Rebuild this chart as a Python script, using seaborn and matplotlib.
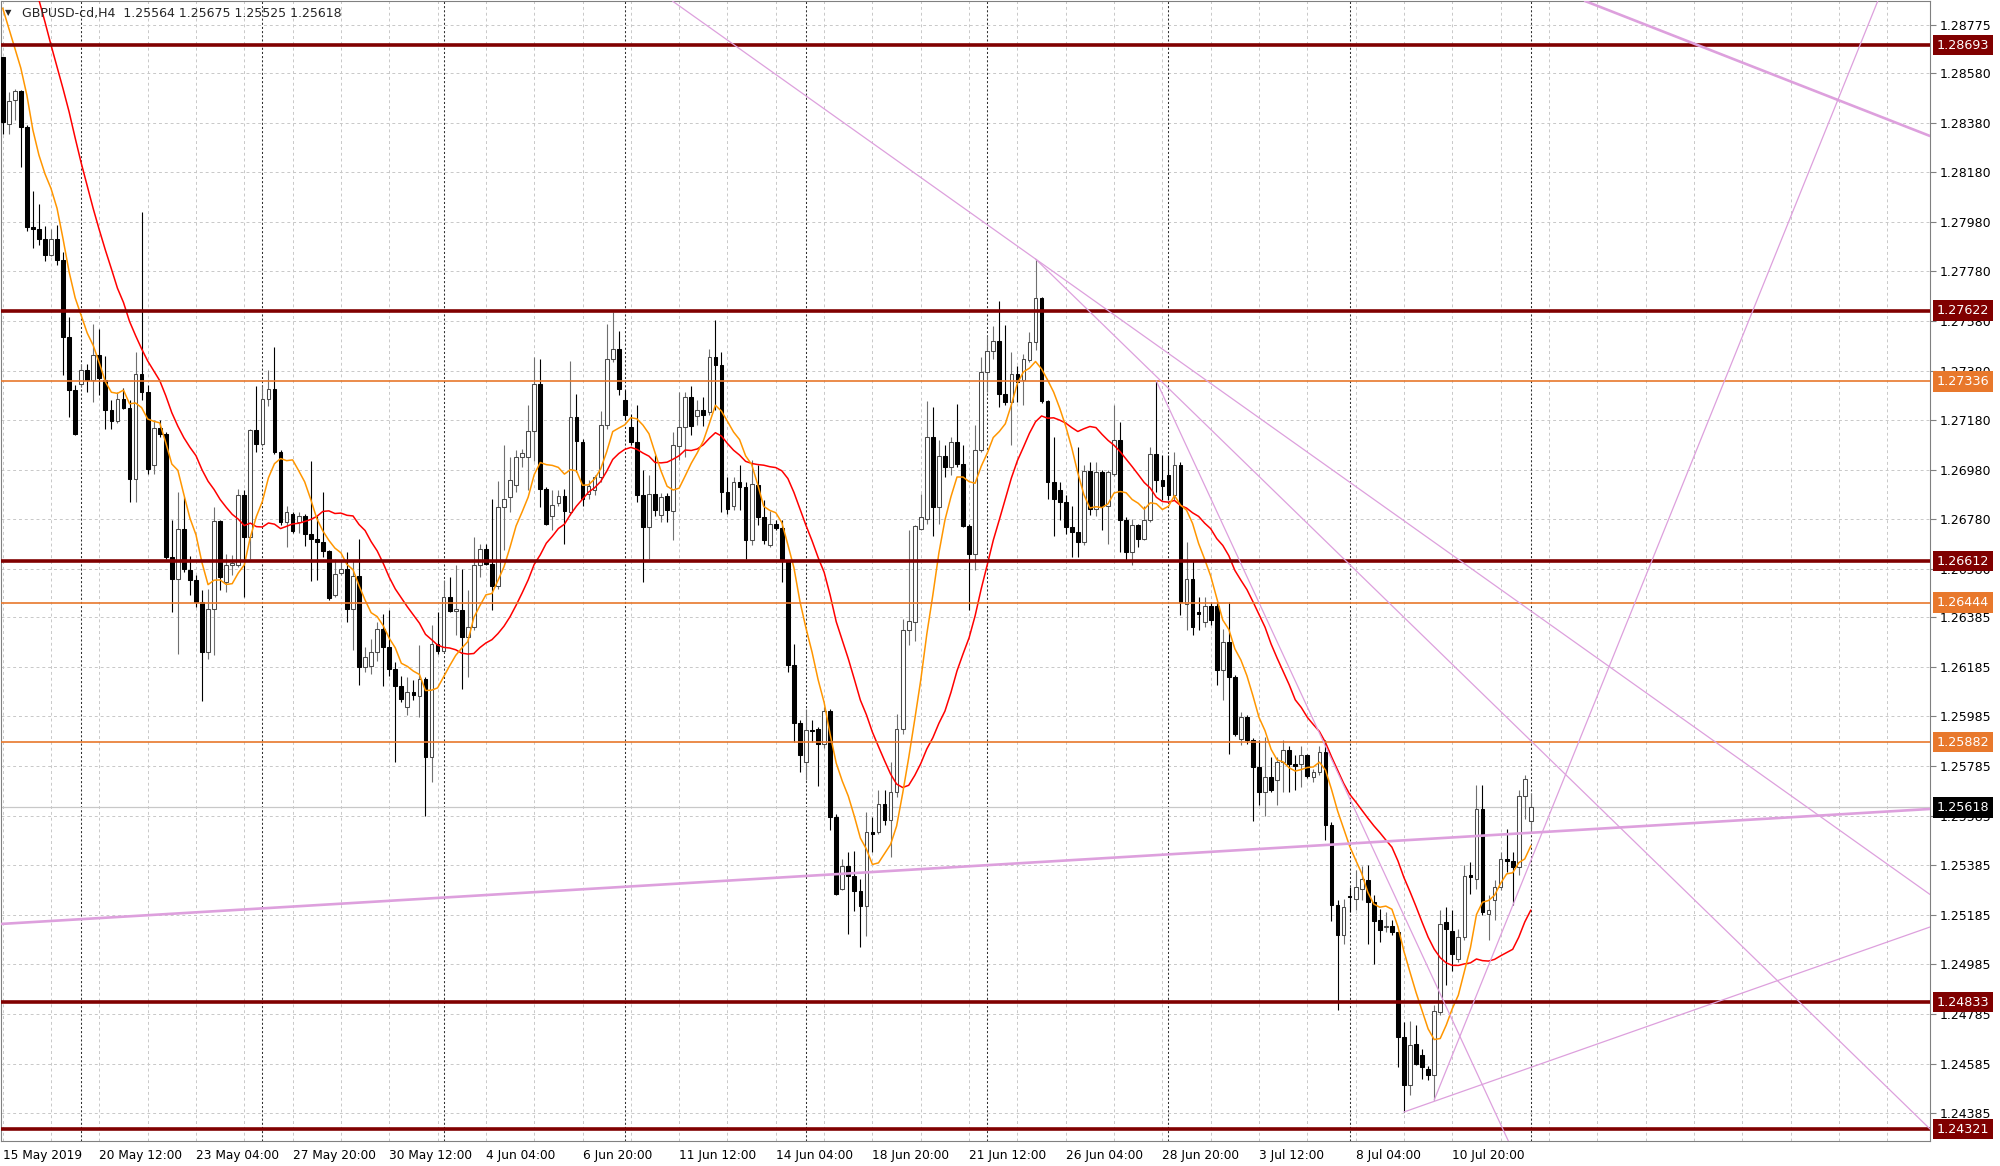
import numpy as np
import pandas as pd
import matplotlib
matplotlib.use("Agg")
import matplotlib.pyplot as plt
import matplotlib.transforms as mtransforms
import seaborn as sns

# GBPUSD H4 bars, 15 May 2019 20:00 -> 15 Jul 2019 00:00
bar_open = [
    1.28645, 1.28374, 1.28471, 1.28508, 1.28362, 1.27959, 1.27951, 1.27911, 1.27846, 1.27911,
    1.27826, 1.27515, 1.27302, 1.27326, 1.27382, 1.27342, 1.27443, 1.27342, 1.27221, 1.27177,
    1.27265, 1.27229, 1.26943, 1.27366, 1.27294, 1.26999, 1.27148, 1.27124, 1.26628, 1.26539,
    1.26741, 1.26576, 1.26535, 1.26447, 1.26245, 1.26418, 1.26773, 1.26527, 1.26596, 1.26596,
    1.26878, 1.26709, 1.27140, 1.27084, 1.27265, 1.27306, 1.27051, 1.26769, 1.26802, 1.26769,
    1.26794, 1.26721, 1.26701, 1.26689, 1.26652, 1.26475, 1.26564, 1.26580, 1.26418, 1.26552,
    1.26185, 1.26189, 1.26245, 1.26338, 1.26265, 1.26176, 1.26108, 1.26023, 1.26084, 1.26068,
    1.26136, 1.25821, 1.26277, 1.26249, 1.26467, 1.26410, 1.26414, 1.26306, 1.26346, 1.26596,
    1.26660, 1.26600, 1.26511, 1.26830, 1.26870, 1.26919, 1.27031, 1.27031, 1.27136, 1.27326,
    1.26902, 1.26794, 1.26846, 1.26874, 1.26810, 1.27193, 1.27092, 1.26882, 1.26898, 1.26951,
    1.27161, 1.27427, 1.27467, 1.27261, 1.27152, 1.27092, 1.26878, 1.26749, 1.26882, 1.26798,
    1.26874, 1.26814, 1.27076, 1.27152, 1.27273, 1.27197, 1.27221, 1.27213, 1.27435, 1.27403,
    1.26890, 1.26834, 1.26931, 1.26910, 1.26697, 1.26919, 1.26789, 1.26677, 1.26761, 1.26745,
    1.26612, 1.26193, 1.25959, 1.25801, 1.25930, 1.25934, 1.25874, 1.26007, 1.25580, 1.25289,
    1.25382, 1.25342, 1.25281, 1.25221, 1.25519, 1.25519, 1.25632, 1.25567, 1.25680, 1.25934,
    1.26334, 1.26366, 1.26741, 1.26781, 1.27112, 1.26830, 1.27036, 1.26991, 1.27092, 1.27003,
    1.26753, 1.26640, 1.27060, 1.27374, 1.27459, 1.27499, 1.27286, 1.27253, 1.27366, 1.27342,
    1.27423, 1.27495, 1.27673, 1.27257, 1.26931, 1.26898, 1.26850, 1.26749, 1.26729, 1.26689,
    1.26975, 1.26822, 1.26971, 1.26834, 1.26963, 1.27100, 1.26777, 1.26648, 1.26757, 1.26701,
    1.26777, 1.27044, 1.26939, 1.26959, 1.26878, 1.26999, 1.26439, 1.26539, 1.26406, 1.26366,
    1.26431, 1.26431, 1.26172, 1.26285, 1.26144, 1.25894, 1.25983, 1.25890, 1.25781, 1.25680,
    1.25741, 1.25729, 1.25801, 1.25850, 1.25793, 1.25793, 1.25830, 1.25741, 1.25761, 1.25842,
    1.25547, 1.25225, 1.25104, 1.25261, 1.25249, 1.25289, 1.25326, 1.25237, 1.25164, 1.25136,
    1.25140, 1.25116, 1.24692, 1.24499, 1.24664, 1.24620, 1.24563, 1.24539, 1.24793, 1.25156,
    1.25120, 1.25007, 1.25096, 1.25346, 1.25330, 1.25612, 1.25188, 1.25245, 1.25297, 1.25410,
    1.25402, 1.25378, 1.25664, 1.25564,
]
bar_high = [
    1.28645, 1.28504, 1.28516, 1.28512, 1.28370, 1.28104, 1.28052, 1.27963, 1.27951, 1.27967,
    1.27858, 1.27596, 1.27322, 1.27407, 1.27407, 1.27568, 1.27548, 1.27439, 1.27261, 1.27294,
    1.27310, 1.27261, 1.27455, 1.28020, 1.27322, 1.27181, 1.27181, 1.27132, 1.26777, 1.26890,
    1.26870, 1.26632, 1.26556, 1.26495, 1.26499, 1.26830, 1.26777, 1.26640, 1.26636, 1.26902,
    1.26898, 1.27144, 1.27318, 1.27318, 1.27382, 1.27475, 1.27060, 1.26834, 1.26810, 1.26810,
    1.26802, 1.27015, 1.26794, 1.26890, 1.26656, 1.26620, 1.26612, 1.26648, 1.26612, 1.26701,
    1.26265, 1.26297, 1.26366, 1.26398, 1.26414, 1.26205, 1.26148, 1.26144, 1.26132, 1.26273,
    1.26144, 1.26354, 1.26406, 1.26535, 1.26547, 1.26596, 1.26580, 1.26495, 1.26709, 1.26681,
    1.26681, 1.26862, 1.26935, 1.27080, 1.27031, 1.27060, 1.27064, 1.27241, 1.27435, 1.27427,
    1.26910, 1.26898, 1.26898, 1.26902, 1.27419, 1.27286, 1.27104, 1.26939, 1.26959, 1.27217,
    1.27568, 1.27616, 1.27540, 1.27302, 1.27205, 1.27241, 1.26979, 1.26959, 1.27040, 1.26886,
    1.26886, 1.27132, 1.27294, 1.27294, 1.27318, 1.27261, 1.27273, 1.27467, 1.27584, 1.27455,
    1.26951, 1.26951, 1.26999, 1.26931, 1.27019, 1.26999, 1.26858, 1.26814, 1.26777, 1.26777,
    1.26616, 1.26277, 1.25971, 1.26015, 1.25971, 1.25942, 1.26023, 1.26015, 1.25592, 1.25410,
    1.25438, 1.25442, 1.25330, 1.25600, 1.25580, 1.25688, 1.25688, 1.25801, 1.25995, 1.26378,
    1.26737, 1.26757, 1.26882, 1.27257, 1.27233, 1.27100, 1.27080, 1.27112, 1.27245, 1.27080,
    1.26761, 1.27161, 1.27435, 1.27519, 1.27560, 1.27661, 1.27564, 1.27455, 1.27398, 1.27447,
    1.27536, 1.27830, 1.27677, 1.27261, 1.27112, 1.26931, 1.26878, 1.26834, 1.27072, 1.26999,
    1.27011, 1.27011, 1.26979, 1.26979, 1.27241, 1.27173, 1.26789, 1.26781, 1.26761, 1.26834,
    1.27072, 1.27338, 1.27040, 1.27040, 1.27051, 1.27011, 1.26689, 1.26616, 1.26467, 1.26467,
    1.26447, 1.26447, 1.26338, 1.26447, 1.26152, 1.26003, 1.25991, 1.25898, 1.25890, 1.25902,
    1.25821, 1.25821, 1.25890, 1.25866, 1.25830, 1.25866, 1.25834, 1.25773, 1.25866, 1.25890,
    1.25559, 1.25245, 1.25249, 1.25297, 1.25366, 1.25382, 1.25386, 1.25265, 1.25209, 1.25196,
    1.25164, 1.25116, 1.24753, 1.24757, 1.24741, 1.24644, 1.24575, 1.24821, 1.25204, 1.25217,
    1.25204, 1.25128, 1.25386, 1.25398, 1.25709, 1.25709, 1.25265, 1.25326, 1.25438, 1.25531,
    1.25438, 1.25688, 1.25749, 1.25675,
]
bar_low = [
    1.28334, 1.28334, 1.28391, 1.28201, 1.27943, 1.27874, 1.27886, 1.27822, 1.27842, 1.27806,
    1.27362, 1.27193, 1.27120, 1.27314, 1.27294, 1.27253, 1.27282, 1.27144, 1.27144, 1.27169,
    1.27225, 1.26850, 1.26850, 1.27261, 1.26963, 1.26963, 1.27112, 1.26620, 1.26406, 1.26237,
    1.26568, 1.26475, 1.26427, 1.26047, 1.26217, 1.26233, 1.26495, 1.26487, 1.26556, 1.26588,
    1.26467, 1.26620, 1.27051, 1.27076, 1.27237, 1.27044, 1.26757, 1.26668, 1.26725, 1.26725,
    1.26673, 1.26531, 1.26535, 1.26628, 1.26455, 1.26467, 1.26556, 1.26366, 1.26253, 1.26112,
    1.26164, 1.26156, 1.26209, 1.26108, 1.26148, 1.25801, 1.26043, 1.25991, 1.26051, 1.25983,
    1.25584, 1.25721, 1.26237, 1.26245, 1.26406, 1.26314, 1.26096, 1.26144, 1.26334, 1.26547,
    1.26596, 1.26414, 1.26499, 1.26656, 1.26810, 1.26890, 1.26991, 1.26898, 1.27015, 1.26830,
    1.26757, 1.26737, 1.26834, 1.26681, 1.26798, 1.26971, 1.26834, 1.26862, 1.26878, 1.26931,
    1.27144, 1.27415, 1.27282, 1.27181, 1.27080, 1.26850, 1.26527, 1.26620, 1.26794, 1.26769,
    1.26769, 1.26697, 1.27019, 1.27031, 1.27120, 1.27161, 1.27156, 1.27201, 1.27221, 1.26810,
    1.26802, 1.26818, 1.26818, 1.26620, 1.26677, 1.26757, 1.26681, 1.26668, 1.26737, 1.26527,
    1.26164, 1.25882, 1.25761, 1.25729, 1.25882, 1.25705, 1.25858, 1.25527, 1.25265, 1.25285,
    1.25108, 1.25200, 1.25055, 1.25100, 1.25438, 1.25511, 1.25547, 1.25418, 1.25660, 1.25914,
    1.26273, 1.26289, 1.26737, 1.26761, 1.26713, 1.26761, 1.26951, 1.26959, 1.26991, 1.26749,
    1.26414, 1.26576, 1.27051, 1.27294, 1.27427, 1.27233, 1.27241, 1.27080, 1.27253, 1.27241,
    1.27415, 1.27463, 1.27249, 1.26862, 1.26713, 1.26777, 1.26721, 1.26628, 1.26628, 1.26677,
    1.26798, 1.26794, 1.26737, 1.26681, 1.26955, 1.26648, 1.26616, 1.26596, 1.26668, 1.26697,
    1.26769, 1.26890, 1.26858, 1.26858, 1.26858, 1.26394, 1.26334, 1.26314, 1.26334, 1.26346,
    1.26354, 1.26112, 1.26051, 1.25834, 1.25906, 1.25870, 1.25874, 1.25563, 1.25628, 1.25584,
    1.25680, 1.25628, 1.25680, 1.25680, 1.25688, 1.25701, 1.25737, 1.25721, 1.25749, 1.25487,
    1.25160, 1.24801, 1.25067, 1.25196, 1.25204, 1.25245, 1.25067, 1.24987, 1.25075, 1.25116,
    1.25104, 1.24571, 1.24390, 1.24458, 1.24579, 1.24523, 1.24519, 1.24438, 1.24781, 1.24902,
    1.24958, 1.24995, 1.25084, 1.25269, 1.25289, 1.25184, 1.25084, 1.25164, 1.25285, 1.25358,
    1.25225, 1.25346, 1.25572, 1.25525,
]
bar_close = [
    1.28383, 1.28467, 1.28508, 1.28362, 1.27959, 1.27951, 1.27911, 1.27846, 1.27911, 1.27826,
    1.27515, 1.27302, 1.27124, 1.27382, 1.27342, 1.27443, 1.27350, 1.27221, 1.27177, 1.27265,
    1.27229, 1.26943, 1.27366, 1.27294, 1.26983, 1.27148, 1.27124, 1.26628, 1.26539, 1.26741,
    1.26580, 1.26535, 1.26447, 1.26245, 1.26418, 1.26773, 1.26547, 1.26596, 1.26604, 1.26878,
    1.26709, 1.27140, 1.27084, 1.27265, 1.27306, 1.27051, 1.26769, 1.26810, 1.26733, 1.26794,
    1.26721, 1.26701, 1.26689, 1.26652, 1.26463, 1.26560, 1.26580, 1.26418, 1.26552, 1.26185,
    1.26225, 1.26245, 1.26338, 1.26265, 1.26176, 1.26108, 1.26055, 1.26084, 1.26072, 1.26136,
    1.25821, 1.26277, 1.26249, 1.26467, 1.26410, 1.26418, 1.26306, 1.26346, 1.26596, 1.26660,
    1.26600, 1.26511, 1.26830, 1.26862, 1.26939, 1.27031, 1.27048, 1.27136, 1.27326, 1.26902,
    1.26761, 1.26838, 1.26874, 1.26814, 1.27193, 1.27096, 1.26862, 1.26915, 1.26951, 1.27161,
    1.27427, 1.27467, 1.27306, 1.27201, 1.27092, 1.26878, 1.26749, 1.26882, 1.26818, 1.26870,
    1.26818, 1.27080, 1.27152, 1.27273, 1.27156, 1.27221, 1.27201, 1.27435, 1.27403, 1.26890,
    1.26822, 1.26931, 1.26910, 1.26697, 1.26923, 1.26789, 1.26697, 1.26761, 1.26745, 1.26612,
    1.26193, 1.25959, 1.25830, 1.25930, 1.25926, 1.25874, 1.26007, 1.25580, 1.25269, 1.25382,
    1.25342, 1.25281, 1.25221, 1.25519, 1.25511, 1.25632, 1.25567, 1.25680, 1.25934, 1.26334,
    1.26370, 1.26753, 1.26789, 1.27112, 1.26830, 1.27036, 1.26991, 1.27092, 1.27003, 1.26753,
    1.26640, 1.27060, 1.27374, 1.27459, 1.27499, 1.27286, 1.27253, 1.27366, 1.27334, 1.27427,
    1.27495, 1.27673, 1.27257, 1.26931, 1.26862, 1.26850, 1.26749, 1.26729, 1.26689, 1.26975,
    1.26822, 1.26971, 1.26834, 1.26971, 1.27100, 1.26777, 1.26648, 1.26757, 1.26701, 1.26777,
    1.27044, 1.26939, 1.26915, 1.26878, 1.26999, 1.26447, 1.26539, 1.26346, 1.26398, 1.26431,
    1.26374, 1.26172, 1.26285, 1.26144, 1.25914, 1.25983, 1.25890, 1.25781, 1.25680, 1.25741,
    1.25688, 1.25801, 1.25850, 1.25793, 1.25785, 1.25830, 1.25745, 1.25761, 1.25842, 1.25547,
    1.25225, 1.25104, 1.25217, 1.25257, 1.25297, 1.25330, 1.25237, 1.25160, 1.25124, 1.25140,
    1.25116, 1.24692, 1.24499, 1.24660, 1.24583, 1.24571, 1.24539, 1.24797, 1.25148, 1.25128,
    1.25027, 1.25096, 1.25342, 1.25338, 1.25612, 1.25196, 1.25204, 1.25297, 1.25410, 1.25402,
    1.25378, 1.25664, 1.25733, 1.25618,
]

# moving average values before enough bars are on screen
sma_fast_head = [1.28842, 1.28762, 1.28681, 1.28600, 1.28491, 1.28350, 1.28249]
sma_slow_head = [np.nan, np.nan, np.nan, np.nan, np.nan,
                 1.28963, 1.28875, 1.28786, 1.28693, 1.28604, 1.28516, 1.28423,
                 1.28318, 1.28217, 1.28124, 1.28032, 1.27947, 1.27866, 1.27790]

date_tick_bars = [0, 16, 32, 48, 64, 80, 96, 112, 128, 144, 160, 176, 192, 208, 224, 240]
date_labels = ["15 May 2019", "20 May 12:00", "23 May 04:00", "27 May 20:00",
               "30 May 12:00", "4 Jun 04:00", "6 Jun 20:00", "11 Jun 12:00",
               "14 Jun 04:00", "18 Jun 20:00", "21 Jun 12:00", "26 Jun 04:00",
               "28 Jun 20:00", "3 Jul 12:00", "8 Jul 04:00", "10 Jul 20:00"]
week_start_bars = [13, 43, 73, 103, 133, 163, 193, 223, 253]

price_ticks = [1.28775, 1.28580, 1.28380, 1.28180, 1.27980, 1.27780, 1.27580,
               1.27380, 1.27180, 1.26980, 1.26780, 1.26580, 1.26385, 1.26185,
               1.25985, 1.25785, 1.25585, 1.25385, 1.25185, 1.24985, 1.24785,
               1.24585, 1.24385]

major_levels = [1.28693, 1.27622, 1.26612, 1.24833, 1.24321]
minor_levels = [1.27336, 1.26444, 1.25882]
last_price = 1.25618

# trendline anchors (bar index, price)
thick_lines = [[(-0.45, 1.25148), (319.1, 1.25612)],
               [(261.5, 1.28875), (319.1, 1.28326)]]
thin_full_lines = [[(171, 1.27830), (319.1, 1.25267)]]
thin_rays = [[(171, 1.27830), (319.1, 1.24321)],
             [(191, 1.27338), (252, 1.24130)],
             [(237, 1.24438), (310.5, 1.28874)],
             [(232, 1.24390), (319.1, 1.25136)]]

title_text = "GBPUSD-cd,H4  1.25564 1.25675 1.25525 1.25618"

MAROON = "#800000"
ORANGE = "#e8782c"
PLUM = "#dda0dd"

sns.set_style("white")
plt.rcParams["font.family"] = ["DejaVu Sans"]

ohlc = pd.DataFrame({"bar": np.arange(len(bar_close)), "open": bar_open,
                     "high": bar_high, "low": bar_low, "close": bar_close})
ohlc["sma_fast"] = ohlc["close"].rolling(8).mean()
ohlc["sma_slow"] = ohlc["close"].rolling(20).mean()
ohlc.loc[:len(sma_fast_head) - 1, "sma_fast"] = sma_fast_head
ohlc.loc[:len(sma_slow_head) - 1, "sma_slow"] = sma_slow_head

fig = plt.figure(figsize=(20, 11.66), dpi=100)
ax = fig.add_axes([0.0005, 25 / 1166, 1929 / 2000, 1140 / 1166])
ax.set_xlim(-0.28, 319.09)
ax.set_ylim(1.242729, 1.288705)

# grid and week separators
for b in range(0, 320, 8):
    ax.axvline(b, color="#c8c8c8", lw=0.7, ls=(0, (3, 3)), zorder=0)
for p in price_ticks:
    ax.axhline(p, color="#c8c8c8", lw=0.7, ls=(0, (3, 3)), zorder=0)
for b in week_start_bars:
    ax.axvline(b, color="#303030", lw=0.75, ls=(0, (2, 2)), zorder=0.5)

ax.axhline(last_price, color="#c8c8c8", lw=0.9, zorder=1)

# candles
up = ohlc[ohlc["close"] >= ohlc["open"]]
dn = ohlc[ohlc["close"] < ohlc["open"]]
ax.vlines(up["bar"], up["low"], up["high"], color="#707070", lw=0.8, zorder=2)
ax.vlines(dn["bar"], dn["low"], dn["high"], color="black", lw=0.8, zorder=2)
ax.bar(up["bar"], up["close"] - up["open"], bottom=up["open"], width=0.62,
       color="white", edgecolor="#4a4a4a", linewidth=0.75, zorder=3)
ax.bar(dn["bar"], dn["open"] - dn["close"], bottom=dn["close"], width=0.62,
       color="black", edgecolor="black", linewidth=0.75, zorder=3)

# moving averages
sns.lineplot(data=ohlc, x="bar", y="sma_slow", color="#ff0000", linewidth=1.1,
             estimator=None, sort=False, ax=ax, zorder=4)
sns.lineplot(data=ohlc, x="bar", y="sma_fast", color="#ff9600", linewidth=1.1,
             estimator=None, sort=False, ax=ax, zorder=4)

# horizontal levels
for p in minor_levels:
    ax.axhline(p, color=ORANGE, lw=1.2, zorder=5)
for p in major_levels:
    ax.axhline(p, color=MAROON, lw=2.6, zorder=5)

# trendlines
for a, b in thick_lines:
    ax.axline(a, b, color=PLUM, lw=1.9, zorder=5)
for a, b in thin_full_lines:
    ax.axline(a, b, color=PLUM, lw=0.9, zorder=5)
for a, b in thin_rays:
    ax.plot([a[0], b[0]], [a[1], b[1]], color=PLUM, lw=0.9, zorder=5)

# axes styling
ax.set_xlabel("")
ax.set_ylabel("")
ax.yaxis.tick_right()
ax.set_yticks(price_ticks)
ax.set_yticklabels([f"{p:.5f}" for p in price_ticks])
ax.set_xticks(date_tick_bars)
ax.set_xticklabels(date_labels, ha="left")
ax.tick_params(axis="y", length=4, width=0.8, color="#808080", labelsize=9,
               pad=3, labelcolor="black")
ax.tick_params(axis="x", length=4, width=0.8, color="#404040", labelsize=8.7,
               pad=2, labelcolor="black")
for side in ["left", "top", "right", "bottom"]:
    ax.spines[side].set_color("#808080")
    ax.spines[side].set_linewidth(0.8)

# price boxes on the right scale
trans = mtransforms.blended_transform_factory(ax.transAxes, ax.transData)
box_items = ([(p, MAROON) for p in major_levels] + [(p, ORANGE) for p in minor_levels]
             + [(last_price, "black")])
for p, c in box_items:
    ax.text(1.0036, p, f"{p:.5f}", transform=trans, ha="left", va="center",
            fontsize=9.2, color="white", zorder=10, clip_on=False,
            bbox=dict(boxstyle="square,pad=0.3", fc=c, ec="none"))

# chart header
fig.text(5 / 2000, 1 - 13 / 1166, "\u25bc", fontsize=6, va="center", ha="left")
fig.text(22 / 2000, 1 - 13 / 1166, title_text, fontsize=9, va="center", ha="left")

fig.savefig("out.png", dpi=100)
